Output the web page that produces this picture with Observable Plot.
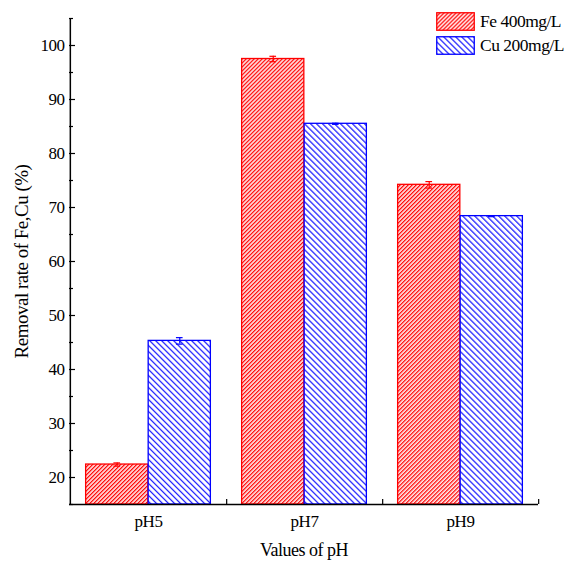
<!DOCTYPE html>
<html>
<head>
<meta charset="utf-8">
<script src="https://cdn.jsdelivr.net/npm/d3@7"></script>
<script src="https://cdn.jsdelivr.net/npm/@observablehq/plot@0.6"></script>
<style>
  body { margin: 0; background: #fff; }
  #wrap { position: relative; width: 565px; height: 565px; font-family: "Liberation Serif", "Times New Roman", serif; }
  #legend { position: absolute; left: 436px; top: 12px; font-size: 17.5px; color: #000; letter-spacing: -0.5px; }
  .li { display: flex; align-items: center; height: 18px; margin-bottom: 6px; white-space: nowrap; }
  .li svg { display: block; margin-right: 5px; }
</style>
</head>
<body>
<svg width="0" height="0" style="position:absolute">
  <defs>
    <pattern id="hatchFe" patternUnits="userSpaceOnUse" width="2.83" height="10" patternTransform="rotate(45)">
      <rect width="2.83" height="10" fill="#fff"></rect>
      <line x1="0.7" y1="0" x2="0.7" y2="10" stroke="#ff0000" stroke-width="1.3"></line>
    </pattern>
    <pattern id="hatchCu" patternUnits="userSpaceOnUse" width="4.24" height="10" patternTransform="rotate(-45)">
      <rect width="4.24" height="10" fill="#fff"></rect>
      <line x1="0.6" y1="0" x2="0.6" y2="10" stroke="#0000ff" stroke-width="1.1"></line>
    </pattern>
  </defs>
</svg>
<div id="wrap">
  <div id="chart"></div>
  <div id="legend"></div>
</div>
<script>
const categories = ["pH5", "pH7", "pH9"];
const seriesNames = ["Fe 400mg/L", "Cu 200mg/L"];
const feValues = [22.4, 97.5, 74.2];
const cuValues = [45.3, 85.5, 68.4];
const feErrors = [0.3, 0.5, 0.6];
const cuErrors = [0.6, 0.1, 0.1];
const yMajorTicks = [20, 30, 40, 50, 60, 70, 80, 90, 100];
const yMinorTicks = [15, 25, 35, 45, 55, 65, 75, 85, 95, 105];
const yDomain = [15, 105];
const xTitle = "Values of pH";
const yTitle = "Removal rate of Fe,Cu (%)";

const W = 565, H = 565, mL = 69, mR = 27, mT = 18, mB = 61;
const bw = (W - mL - mR) / categories.length;
const colors = {Fe: "#ff0000", Cu: "#0000ff"};
const fills = {Fe: "url(#hatchFe)", Cu: "url(#hatchCu)"};
const FONT = "Liberation Serif";

const fe = categories.map((c, i) => ({pH: c, value: feValues[i], err: feErrors[i]}));
const cu = categories.map((c, i) => ({pH: c, value: cuValues[i], err: cuErrors[i]}));

const capHalf = 3.5;
function seriesMarks(data, key, leftFrac) {
  const barW = bw * 0.4;
  const center = bw * leftFrac + barW / 2;
  return [
    Plot.barY(data, {x: "pH", y1: yDomain[0], y2: "value", fill: fills[key], stroke: colors[key], strokeWidth: 1.3,
      insetLeft: bw * leftFrac, insetRight: bw - bw * leftFrac - barW}),
    Plot.ruleX(data, {x: "pH", y1: d => d.value - d.err, y2: d => d.value + d.err, dx: center - bw / 2, stroke: colors[key], strokeWidth: 1.2}),
    Plot.tickY(data, {x: "pH", y: d => d.value + d.err, insetLeft: center - capHalf, insetRight: bw - center - capHalf, stroke: colors[key], strokeWidth: 1.2}),
    Plot.tickY(data, {x: "pH", y: d => d.value - d.err, insetLeft: center - capHalf, insetRight: bw - center - capHalf, stroke: colors[key], strokeWidth: 1.2})
  ];
}

const chart = Plot.plot({
  width: W, height: H,
  marginLeft: mL, marginRight: mR, marginTop: mT, marginBottom: mB,
  style: {fontFamily: "'Liberation Serif', 'Times New Roman', serif", color: "#000", background: "#fff", letterSpacing: "-0.5px"},
  x: {type: "band", domain: categories, padding: 0, axis: null},
  y: {domain: yDomain, axis: null},
  marks: [
    ...seriesMarks(fe, "Fe", 0.1),
    ...seriesMarks(cu, "Cu", 0.5),
    Plot.ruleY([yDomain[0]], {stroke: "#000", strokeWidth: 1.5}),
    Plot.ruleX([categories[0]], {x: d => d, dx: -bw / 2, stroke: "#000", strokeWidth: 1.5}),
    Plot.ruleX(categories, {x: d => d, dx: bw / 2, y1: yDomain[0], y2: yDomain[0], insetTop: -5, stroke: "#000", strokeWidth: 1.2}),
    Plot.axisY({ticks: yMajorTicks, tickSize: -6, tickFormat: () => "", strokeWidth: 1.2, label: null}),
    Plot.axisY({ticks: yMinorTicks, tickSize: -4, tickFormat: () => "", strokeWidth: 1.2, label: null}),
    Plot.axisY({ticks: yMajorTicks, tickSize: 0, tickPadding: 5, fontSize: 17, fontFamily: FONT, label: null}),
    Plot.axisX({tickSize: 0, tickPadding: 10, fontSize: 17, fontFamily: FONT, label: null}),
    Plot.text([xTitle], {text: d => d, frameAnchor: "bottom", textAnchor: "middle", dy: 46, lineAnchor: "middle", fontSize: 18, fontFamily: FONT}),
    Plot.text([yTitle], {text: d => d, frameAnchor: "left", textAnchor: "middle", rotate: -90, dx: -48, lineAnchor: "middle", fontSize: 19, fontFamily: FONT})
  ]
});
document.getElementById("chart").appendChild(chart);

const legend = document.getElementById("legend");
[["Fe", seriesNames[0]], ["Cu", seriesNames[1]]].forEach(([k, name]) => {
  const row = document.createElement("div");
  row.className = "li";
  row.innerHTML = `<svg width="39" height="19"><rect x="0.75" y="0.75" width="37.5" height="17.5" fill="${fills[k]}" stroke="${colors[k]}" stroke-width="1.3"></rect></svg><span>${name}</span>`;
  legend.appendChild(row);
});
</script>
</body>
</html>
